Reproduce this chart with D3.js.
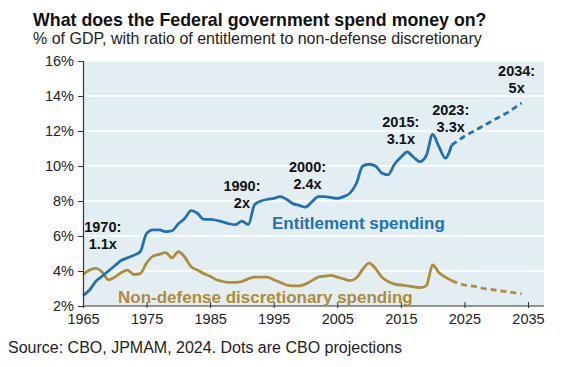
<!DOCTYPE html>
<html>
<head>
<meta charset="utf-8">
<script src="https://cdn.jsdelivr.net/npm/d3@7"></script>
<style>
  html, body { margin: 0; padding: 0; background: #fff; }
  svg { display: block; font-family: "Liberation Sans", Arial, sans-serif; }
</style>
</head>
<body>
<svg id="chart" width="566" height="367"></svg>
<script>
// ---- Data ----
const actualYears = d3.range(1965, 2024);
const entitlementActual = [
  2.6, 2.9, 3.4, 3.7, 4.0, 4.3, 4.6, 4.75, 4.9, 5.1,
  6.15, 6.35, 6.35, 6.25, 6.3, 6.7, 7.0, 7.45, 7.3, 6.95,
  6.95, 6.9, 6.8, 6.7, 6.65, 6.85, 6.65, 7.8, 8.0, 8.1,
  8.15, 8.25, 8.1, 7.85, 7.75, 7.65, 7.95, 8.25, 8.25, 8.2,
  8.15, 8.25, 8.45, 9.0, 10.0, 10.1, 10.0, 9.6, 9.5, 10.1,
  10.5, 10.8, 10.5, 10.25, 10.6, 11.8, 11.1, 10.45, 11.2
];
const discretionaryActual = [
  3.8, 4.05, 4.15, 3.95, 3.5, 3.65, 3.9, 4.05, 3.8, 3.85,
  4.45, 4.85, 4.95, 5.05, 4.75, 5.1, 4.8, 4.25, 4.05, 3.85,
  3.7, 3.5, 3.4, 3.35, 3.35, 3.4, 3.55, 3.65, 3.65, 3.65,
  3.5, 3.35, 3.2, 3.15, 3.15, 3.25, 3.45, 3.65, 3.7, 3.75,
  3.65, 3.55, 3.45, 3.6, 4.1, 4.45, 4.15, 3.65, 3.4, 3.25,
  3.2, 3.15, 3.1, 3.05, 3.15, 4.35, 3.9, 3.65, 3.45
];
const projYears = d3.range(2023, 2035);
const entitlementProj = [11.2, 11.45, 11.7, 11.9, 12.1, 12.3, 12.5, 12.7, 12.9, 13.1, 13.35, 13.6];
const discretionaryProj = [3.45, 3.3, 3.2, 3.15, 3.1, 3.0, 2.95, 2.9, 2.85, 2.8, 2.75, 2.7];

const yTicks = [2, 4, 6, 8, 10, 12, 14, 16];
const xTicks = [1965, 1975, 1985, 1995, 2005, 2015, 2025, 2035];

const annotations = [
  { year: 1970, lines: ["1970:", "1.1x"], dx: -12, y: 232 },
  { year: 1990, lines: ["1990:", "2x"], dx: 0, y: 191 },
  { year: 2000, lines: ["2000:", "2.4x"], dx: 2, y: 172 },
  { year: 2015, lines: ["2015:", "3.1x"], dx: 0, y: 127 },
  { year: 2023, lines: ["2023:", "3.3x"], dx: -1, y: 115 },
  { year: 2034, lines: ["2034:", "5x"], dx: -5, y: 76 }
];

const title = "What does the Federal government spend money on?";
const subtitle = "% of GDP, with ratio of entitlement to non-defense discretionary";
const source = "Source: CBO, JPMAM, 2024. Dots are CBO projections";

// ---- Layout ----
const svg = d3.select("#chart");
const mLeft = 83, mRight = 544, mTop = 61, mBottom = 306;
const blue = "#2271b3", gold = "#ae8c3a";

const x = d3.scaleLinear().domain([1965, 1965 + (mRight - mLeft) / 6.357]).range([mLeft, mRight]);
const y = d3.scaleLinear().domain([2, 16]).range([mBottom, mTop]);

svg.append("rect").attr("x", mLeft).attr("y", mTop)
  .attr("width", mRight - mLeft).attr("height", mBottom - mTop)
  .attr("fill", "#e3eef3");

// grid
svg.append("g").selectAll("line").data(yTicks.slice(1)).join("line")
  .attr("x1", mLeft).attr("x2", mRight)
  .attr("y1", d => y(d)).attr("y2", d => y(d))
  .attr("stroke", "#fff").attr("stroke-width", 1.5);

// Titles
svg.append("text").attr("x", 33).attr("y", 26).text(title)
  .attr("font-weight", "bold").attr("font-size", 17.8).attr("fill", "#111");
svg.append("text").attr("x", 33).attr("y", 44).text(subtitle)
  .attr("font-size", 16).attr("fill", "#222");
svg.append("text").attr("x", 8).attr("y", 353).text(source)
  .attr("font-size", 16).attr("fill", "#222");

// Lines
const line = d3.line().x(d => x(d[0])).y(d => y(d[1])).curve(d3.curveMonotoneX);
function draw(years, vals, color, dashed) {
  const p = svg.append("path")
    .datum(years.map((yr, i) => [yr, vals[i]]))
    .attr("d", line).attr("fill", "none")
    .attr("stroke", color).attr("stroke-width", 2.8)
    .attr("stroke-linejoin", "round");
  if (dashed) p.attr("stroke-dasharray", "6,4");
}
draw(actualYears, discretionaryActual, gold, false);
draw(projYears, discretionaryProj, gold, true);
draw(actualYears, entitlementActual, blue, false);
draw(projYears, entitlementProj, blue, true);

// Axes
const yAxis = svg.append("g").attr("transform", `translate(${mLeft},0)`)
  .call(d3.axisLeft(y).tickValues(yTicks).tickFormat(d => d + "%").tickSize(5).tickPadding(4));
const xAxis = svg.append("g").attr("transform", `translate(0,${mBottom})`)
  .call(d3.axisBottom(x).tickValues(xTicks).tickFormat(d3.format("d")).tickSize(0).tickPadding(8));
xAxis.selectAll(".tick").append("line").attr("y1", -4).attr("y2", 2).attr("stroke", "#333");
xAxis.select(".domain").attr("d", `M${mLeft},0H${mRight}`);
[yAxis, xAxis].forEach(g => {
  g.selectAll(".domain").attr("stroke", "#333").attr("stroke-width", 1.2);
  g.selectAll(".tick line").attr("stroke", "#333");
  g.selectAll("text").attr("font-size", 14.5).attr("fill", "#222")
    .attr("font-family", "'Liberation Sans', Arial, sans-serif");
});

// Series labels
svg.append("text").attr("x", 272).attr("y", 229).text("Entitlement spending")
  .attr("font-weight", "bold").attr("font-size", 17).attr("fill", blue);
svg.append("text").attr("x", 118).attr("y", 303).text("Non-defense discretionary spending")
  .attr("font-weight", "bold").attr("font-size", 17).attr("fill", gold);

// Annotations
annotations.forEach(a => {
  const t = svg.append("text").attr("text-anchor", "middle")
    .attr("font-weight", "bold").attr("font-size", 14.5).attr("fill", "#111");
  a.lines.forEach((l, i) => {
    t.append("tspan").attr("x", x(a.year) + a.dx).attr("y", a.y + i * 17).text(l);
  });
});
</script>
</body>
</html>
